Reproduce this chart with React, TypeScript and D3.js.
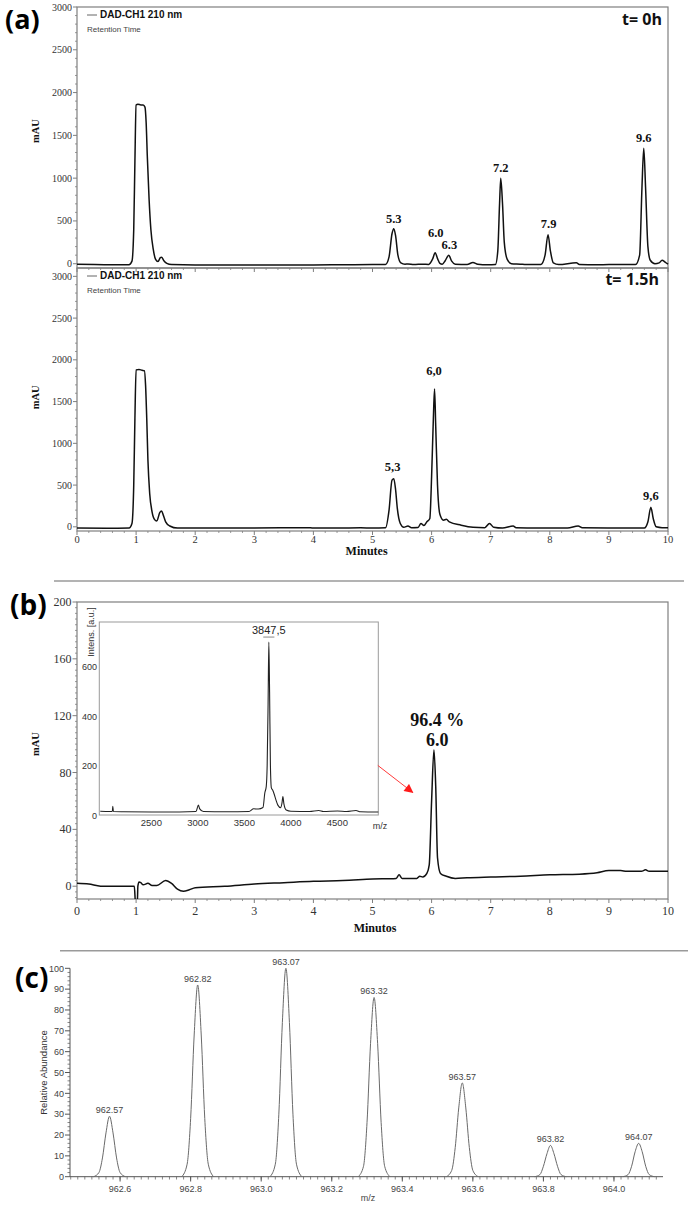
import * as d3 from "d3";

type Pt = [number, number];

// (a) HPLC, t = 0h   [minutes, mAU]
const TRACE_T0: Pt[] = [
  [0, -5], [0.3, -10], [0.6, -12], [0.88, -12], [0.93, 30], [0.96, 400], [0.98, 1200], [1.0, 1855],
  [1.03, 1865], [1.08, 1855], [1.12, 1855], [1.15, 1830], [1.17, 1650], [1.19, 1250], [1.22, 750],
  [1.25, 400], [1.29, 170], [1.33, 50], [1.37, 25], [1.41, 70], [1.43, 75], [1.47, 35], [1.52, 5],
  [1.6, -10], [2.0, -15], [3.0, -15], [4.0, -15], [4.5, -12], [5.0, -10], [5.22, -8], [5.28, 80],
  [5.33, 350], [5.36, 410], [5.39, 330], [5.43, 100], [5.48, 10], [5.55, -5], [5.6, -2], [5.7, -10],
  [5.85, -5], [5.95, -8], [6.02, 60], [6.06, 128], [6.1, 60], [6.14, 5], [6.18, -5], [6.23, 35],
  [6.29, 100], [6.34, 30], [6.4, -5], [6.6, -10], [6.7, 15], [6.78, -5], [6.95, -12], [7.08, -10],
  [7.12, 150], [7.15, 700], [7.17, 1000], [7.2, 700], [7.23, 250], [7.28, 50], [7.35, 0], [7.5, -5],
  [7.6, -10], [7.85, -8], [7.92, 100], [7.97, 340], [8.01, 150], [8.06, 10], [8.15, -10], [8.45, 10],
  [8.5, -8], [8.8, -12], [9.0, -10], [9.45, -10], [9.52, 100], [9.56, 900], [9.59, 1350], [9.62, 900],
  [9.66, 200], [9.7, 40], [9.78, 0], [9.85, 10], [9.9, 40], [9.95, 20], [10, -5],
];

// (a) HPLC, t = 1.5h
const TRACE_T15: Pt[] = [
  [0, -15], [0.5, -18], [0.88, -15], [0.93, 40], [0.96, 500], [0.98, 1300], [1.0, 1880], [1.05, 1885],
  [1.1, 1875], [1.14, 1870], [1.16, 1700], [1.18, 1300], [1.2, 800], [1.23, 400], [1.27, 180],
  [1.31, 90], [1.35, 70], [1.4, 170], [1.43, 190], [1.46, 140], [1.5, 60], [1.57, 10], [1.7, -15],
  [2.0, -15], [3.0, -15], [3.9, -10], [4.0, -15], [4.4, -15], [4.8, -12], [5.0, -15], [5.22, -12],
  [5.28, 200], [5.33, 560], [5.36, 575], [5.39, 450], [5.42, 220], [5.47, 40], [5.53, -5], [5.6, 10],
  [5.66, -10], [5.77, -8], [5.82, 40], [5.87, 15], [5.92, 60], [5.97, 100], [6.0, 600], [6.03, 1300],
  [6.05, 1650], [6.07, 1200], [6.1, 500], [6.14, 150], [6.2, 80], [6.25, 90], [6.3, 60], [6.5, 20],
  [6.7, -5], [6.9, -10], [6.98, 40], [7.05, -5], [7.2, -15], [7.38, 10], [7.43, -10], [7.8, -15],
  [8.3, -15], [8.48, 10], [8.55, -12], [9.0, -15], [9.6, -15], [9.66, 60], [9.71, 235], [9.75, 100],
  [9.8, 0], [9.9, -10], [10, -10],
];

const LABELS_T0 = ["5.3", "6.0", "6.3", "7.2", "7.9", "9.6"];
const LABELS_T0_RT = [5.36, 6.07, 6.3, 7.17, 7.98, 9.59];
const LABELS_T0_MAU = [480, 318, 175, 1077, 417, 1427];

const LABELS_T15 = ["5,3", "6,0", "9,6"];
const LABELS_T15_RT = [5.34, 6.04, 9.71];
const LABELS_T15_MAU = [672, 1818, 321];

// (b) purified peptide HPLC   [minutos, mAU]
const TRACE_PURE: Pt[] = [
  [0, 2], [0.2, 1.5], [0.4, 0], [0.9, 0], [0.97, 0], [0.99, -12], [1.02, -12], [1.03, 0], [1.05, 3],
  [1.08, 2.5], [1.12, 1], [1.2, 2], [1.27, 0.5], [1.35, 0.5], [1.5, 4], [1.6, 2], [1.7, -2], [1.8, -3.5],
  [1.9, -2.5], [2.0, -1], [2.5, 0], [3.0, 1.5], [3.5, 2.5], [4.0, 3.5], [4.5, 4], [5.0, 5], [5.4, 5.5],
  [5.45, 8], [5.5, 5.5], [5.75, 5.5], [5.8, 7], [5.85, 6.5], [5.92, 9], [5.96, 15], [6.0, 60],
  [6.04, 96], [6.07, 70], [6.1, 20], [6.15, 9], [6.25, 7], [6.4, 5.5], [6.6, 6], [7.0, 6.5], [7.5, 7],
  [8.0, 8], [8.5, 8.5], [8.8, 9.5], [9.0, 11], [9.2, 11], [9.3, 10.5], [9.55, 10.5], [9.62, 11.5],
  [9.68, 10.5], [10, 10.5],
];
const PURE_PEAK_RT = 6.06;
const PURE_PEAK_LINES = ["96.4 %", "6.0"];
const PURE_PEAK_MAU = [112.5, 98.5];
const ARROW_FROM: Pt = [5.09, 85];
const ARROW_TO: Pt = [5.68, 66];

// (b) inset MALDI   [m/z, a.u.]
const MALDI: Pt[] = [
  [1950, 15], [2050, 14], [2080, 14], [2085, 35], [2092, 14], [2200, 13], [2500, 12], [2800, 12],
  [2980, 14], [3005, 40], [3020, 25], [3060, 14], [3300, 13], [3550, 14], [3600, 25], [3650, 24],
  [3700, 30], [3720, 90], [3735, 115], [3745, 200], [3755, 450], [3763, 700], [3771, 500], [3780, 200],
  [3790, 110], [3805, 100], [3820, 85], [3840, 60], [3860, 40], [3890, 30], [3905, 50], [3914, 75],
  [3925, 45], [3950, 20], [4000, 15], [4200, 14], [4300, 18], [4350, 14], [4500, 16], [4600, 14],
  [4700, 18], [4750, 13], [4940, 12],
];
const MALDI_LABEL = "3847,5";
const MALDI_PEAK_MZ = 3763;
const MALDI_Y_TICKS = [0, 200, 400, 600];
const MALDI_X_TICKS = [2500, 3000, 3500, 4000, 4500];

// (c) isotopic cluster
const MS_MZ = [962.57, 962.82, 963.07, 963.32, 963.57, 963.82, 964.07];
const MS_LABELS = ["962.57", "962.82", "963.07", "963.32", "963.57", "963.82", "964.07"];
const MS_HEIGHTS = [29, 92, 100, 86, 45, 15, 16];
const MS_OFFSETS = [-0.045, -0.03, -0.02, -0.01, 0, 0.01, 0.02, 0.03, 0.045];
const MS_PROFILES = [
  [0, 2, 9, 21, 29, 21, 9, 2, 0],
  [0, 6, 28, 68, 92, 68, 28, 6, 0],
  [0, 6, 30, 74, 100, 74, 30, 6, 0],
  [0, 5, 26, 64, 86, 64, 26, 5, 0],
  [0, 3, 14, 33, 45, 33, 14, 3, 0],
  [0, 1, 5, 11, 15, 11, 5, 1, 0],
  [0, 1, 5, 12, 16, 12, 5, 1, 0],
];
const MS_X_TICKS = [962.6, 962.8, 963.0, 963.2, 963.4, 963.6, 963.8, 964.0];

const SERIF = "'Liberation Serif', 'Times New Roman', serif";
const SANS = "'Liberation Sans', Arial, sans-serif";
const HEAD = "'Open Sans', 'Noto Sans', sans-serif";
const FRAME = "#7f7f7f";

const xMin = d3.scaleLinear().domain([0, 10]).range([77, 668]);

function HplcPanel(props: {
  trace: Pt[]; labels: string[]; rts: number[]; at: number[];
  top: number; bottom: number; yMax: number; stamp: string; stampX: number; stampDy: number;
  xLabels: boolean;
}) {
  const { trace, labels, rts, at, top, bottom, yMax, stamp, stampX, stampDy, xLabels } = props;
  const x = xMin;
  const y = d3.scaleLinear().domain([-50, yMax]).range([bottom, top]);
  const line = d3.line<Pt>().x((d) => x(d[0])).y((d) => y(d[1])).curve(d3.curveMonotoneX);
  const majors = d3.range(0, 3001, 500);
  const minors = d3.range(0, 3001, 100).filter((v) => v % 500 !== 0);
  const xMajors = d3.range(0, 11, 1);
  const xMinors = d3.range(0, 10.01, 0.2).filter((v) => Math.abs(v - Math.round(v)) > 0.01);
  return (
    <g>
      {minors.map((v) => (
        <line key={"m" + v} x1={75} x2={77} y1={y(v)} y2={y(v)} stroke={FRAME} strokeWidth={0.8} />
      ))}
      {majors.map((v) => (
        <g key={"M" + v}>
          <line x1={73} x2={77} y1={y(v)} y2={y(v)} stroke={FRAME} />
          <text x={72} y={y(v) + 3.5} textAnchor="end" fontFamily={SERIF} fontSize={10} fill="#333">{v}</text>
        </g>
      ))}
      {xMinors.map((v) => (
        <line key={"xm" + v} x1={x(v)} x2={x(v)} y1={bottom} y2={bottom + 2} stroke={FRAME} strokeWidth={0.8} />
      ))}
      {xMajors.map((v) => (
        <g key={"xM" + v}>
          <line x1={x(v)} x2={x(v)} y1={bottom} y2={bottom + 4} stroke={FRAME} />
          {xLabels && (
            <text x={x(v)} y={bottom + 11.5} textAnchor="middle" fontFamily={SERIF} fontSize={10.5} fill="#333">{v}</text>
          )}
        </g>
      ))}
      <rect x={77} y={top} width={591} height={bottom - top} fill="none" stroke={FRAME} strokeWidth={1.2} />
      <path d={line(trace) || ""} fill="none" stroke="#111" strokeWidth={1.5} />
      {labels.map((t, i) => (
        <text key={t} x={x(rts[i])} y={y(at[i])} textAnchor="middle" fontFamily={SERIF} fontWeight="bold" fontSize={12.5} fill="#111">{t}</text>
      ))}
      <text transform={`translate(38.5,${y(1550)}) rotate(-90)`} textAnchor="middle" fontFamily={SERIF} fontWeight="bold" fontSize={10.5} fill="#111">mAU</text>
      <line x1={87} x2={97} y1={top + 8} y2={top + 8} stroke="#666" strokeWidth={1} />
      <text x={100} y={top + 11.3} fontFamily={SANS} fontWeight="bold" fontSize={10} fill="#111">DAD-CH1  210 nm</text>
      <text x={87} y={top + 24.7} fontFamily={SANS} fontSize={8} fill="#444">Retention Time</text>
      <text x={stampX} y={top + stampDy} textAnchor="end" fontFamily={HEAD} fontWeight="bold" fontSize={16} fill="#111">{stamp}</text>
    </g>
  );
}

function PurePanel() {
  const x = xMin;
  const y = d3.scaleLinear().domain([-9, 200]).range([899, 602]);
  const line = d3.line<Pt>().x((d) => x(d[0])).y((d) => y(d[1])).curve(d3.curveMonotoneX);
  const majors = d3.range(0, 201, 40);
  const minors = d3.range(-8, 201, 4).filter((v) => v % 40 !== 0);
  const xMajors = d3.range(0, 11, 1);
  const xMinors = d3.range(0, 10.01, 0.2).filter((v) => Math.abs(v - Math.round(v)) > 0.01);

  const ix = d3.scaleLinear().domain([1940, 4940]).range([99.3, 378.3]);
  const iy = d3.scaleLinear().domain([0, 781]).range([815, 622]);
  const iline = d3.line<Pt>().x((d) => ix(d[0])).y((d) => iy(d[1])).curve(d3.curveMonotoneX);

  return (
    <g>
      <defs>
        <clipPath id="pureClip">
          <rect x={77} y={602} width={591} height={297} />
        </clipPath>
        <marker id="redHead" viewBox="0 0 10 10" refX={9} refY={5} markerWidth={10} markerHeight={9}
          markerUnits="userSpaceOnUse" orient="auto">
          <path d="M0,0 L10,5 L0,10 z" fill="#ff1a1a" />
        </marker>
      </defs>
      {minors.map((v) => (
        <line key={"m" + v} x1={75} x2={77} y1={y(v)} y2={y(v)} stroke={FRAME} strokeWidth={0.8} />
      ))}
      {majors.map((v) => (
        <g key={"M" + v}>
          <line x1={72.5} x2={77} y1={y(v)} y2={y(v)} stroke={FRAME} />
          <text x={71.5} y={y(v) + 4} textAnchor="end" fontFamily={SERIF} fontSize={12} fill="#333">{v}</text>
        </g>
      ))}
      {xMinors.map((v) => (
        <line key={"xm" + v} x1={x(v)} x2={x(v)} y1={899} y2={901} stroke={FRAME} strokeWidth={0.8} />
      ))}
      {xMajors.map((v) => (
        <g key={"xM" + v}>
          <line x1={x(v)} x2={x(v)} y1={899} y2={903} stroke={FRAME} />
          <text x={x(v)} y={915} textAnchor="middle" fontFamily={SERIF} fontSize={12} fill="#333">{v}</text>
        </g>
      ))}
      <rect x={77} y={602} width={591} height={297} fill="none" stroke={FRAME} strokeWidth={1.2} />
      <path d={line(TRACE_PURE) || ""} clipPath="url(#pureClip)" fill="none" stroke="#111" strokeWidth={1.5} />
      {PURE_PEAK_LINES.map((t, i) => (
        <text key={t} x={x(PURE_PEAK_RT) + 2} y={y(PURE_PEAK_MAU[i])} textAnchor="middle" fontFamily={SERIF}
          fontWeight="bold" fontSize={18} fill="#111">{t}</text>
      ))}
      <text transform={`translate(38.5,${y(100)}) rotate(-90)`} textAnchor="middle" fontFamily={SERIF} fontWeight="bold" fontSize={10.5} fill="#111">mAU</text>
      <text x={375} y={932} textAnchor="middle" fontFamily={SERIF} fontWeight="bold" fontSize={12} fill="#111">Minutos</text>

      {/* inset */}
      <rect x={99.3} y={622} width={279} height={193} fill="#fff" stroke="#9a9a9a" strokeWidth={1} />
      <path d={iline(MALDI) || ""} fill="none" stroke="#222" strokeWidth={1.1} />
      {MALDI_Y_TICKS.map((v) => (
        <text key={v} x={97} y={iy(v) + 3.5} textAnchor="end" fontFamily={SANS} fontSize={9} fill="#333">{v}</text>
      ))}
      {MALDI_X_TICKS.map((v) => (
        <text key={v} x={ix(v)} y={826} textAnchor="middle" fontFamily={SANS} fontSize={9.5} fill="#333">{v}</text>
      ))}
      <text transform={`translate(93.5,632) rotate(-90)`} textAnchor="middle" fontFamily={SANS} fontSize={9} fill="#333">Intens. [a.u.]</text>
      <text x={380} y={829} textAnchor="middle" fontFamily={SANS} fontSize={9} fill="#333">m/z</text>
      <text x={ix(MALDI_PEAK_MZ)} y={iy(732)} textAnchor="middle" fontFamily={SANS} fontSize={11} fill="#222">{MALDI_LABEL}</text>
      <line x1={ix(MALDI_PEAK_MZ - 60)} x2={ix(MALDI_PEAK_MZ + 60)} y1={iy(720)} y2={iy(720)} stroke="#888" />

      <line x1={x(ARROW_FROM[0])} y1={y(ARROW_FROM[1])} x2={x(ARROW_TO[0])} y2={y(ARROW_TO[1])}
        stroke="#ff3b3b" strokeWidth={1} markerEnd="url(#redHead)" />
    </g>
  );
}

function IsotopePanel() {
  const x = d3.scaleLinear().domain([962.458, 964.139]).range([70, 663]);
  const y = d3.scaleLinear().domain([0, 100]).range([1176.7, 968.3]);
  const line = d3.line<Pt>().x((d) => x(d[0])).y((d) => y(d[1])).curve(d3.curveMonotoneX);
  const majors = d3.range(0, 101, 10);
  const minors = d3.range(0, 101, 2).filter((v) => v % 10 !== 0);
  const xMinors = d3.range(962.46, 964.14, 0.02);
  const AX = "#555";
  return (
    <g>
      <line x1={70} x2={70} y1={968.3} y2={1176.7} stroke={AX} />
      <line x1={70} x2={663} y1={1176.7} y2={1176.7} stroke={AX} />
      {minors.map((v) => (
        <line key={"m" + v} x1={67.5} x2={70} y1={y(v)} y2={y(v)} stroke={AX} strokeWidth={0.7} />
      ))}
      {majors.map((v) => (
        <g key={"M" + v}>
          <line x1={65} x2={70} y1={y(v)} y2={y(v)} stroke={AX} />
          <text x={64} y={y(v) + 3.2} textAnchor="end" fontFamily={SANS} fontSize={9} fill="#444">{v}</text>
        </g>
      ))}
      {xMinors.map((v, i) => (
        <line key={"xm" + i} x1={x(v)} x2={x(v)} y1={1176.7} y2={1179.5} stroke={AX} strokeWidth={0.7} />
      ))}
      {MS_X_TICKS.map((v) => (
        <g key={"xM" + v}>
          <line x1={x(v)} x2={x(v)} y1={1176.7} y2={1181.5} stroke={AX} />
          <text x={x(v)} y={1191.5} textAnchor="middle" fontFamily={SANS} fontSize={9} fill="#444">{v.toFixed(1)}</text>
        </g>
      ))}
      {MS_MZ.map((mz, i) => {
        const pts: Pt[] = MS_OFFSETS.map((o, j) => [mz + o, MS_PROFILES[i][j]]);
        return (
          <g key={mz}>
            <path d={line(pts) || ""} fill="none" stroke="#6a6a6a" strokeWidth={1} />
            <text x={x(mz)} y={y(MS_HEIGHTS[i]) - 3} textAnchor="middle" fontFamily={SANS} fontSize={9} fill="#444">{MS_LABELS[i]}</text>
          </g>
        );
      })}
      <text transform={`translate(46.5,${y(50)}) rotate(-90)`} textAnchor="middle" fontFamily={SANS} fontSize={9.5} fill="#333">Relative Abundance</text>
      <text x={368} y={1201} textAnchor="middle" fontFamily={SANS} fontSize={9} fill="#444">m/z</text>
    </g>
  );
}

export default function App() {
  return (
    <svg width={696} height={1205} viewBox="0 0 696 1205"
      style={{ position: "absolute", left: 0, top: 0, background: "#fff" }}>
      <rect width={696} height={1205} fill="#fff" />
      <HplcPanel trace={TRACE_T0} labels={LABELS_T0} rts={LABELS_T0_RT} at={LABELS_T0_MAU}
        top={7} bottom={268} yMax={3000} stamp="t= 0h" stampX={662} stampDy={18} xLabels={false} />
      <HplcPanel trace={TRACE_T15} labels={LABELS_T15} rts={LABELS_T15_RT} at={LABELS_T15_MAU}
        top={268} bottom={531} yMax={3100} stamp="t= 1.5h" stampX={659} stampDy={17} xLabels={true} />
      <text x={xMin(4.9)} y={555} textAnchor="middle" fontFamily={SERIF} fontWeight="bold" fontSize={12} fill="#111">Minutes</text>

      <line x1={54} x2={684} y1={581} y2={581} stroke="#9a9a9a" strokeWidth={1.5} />
      <PurePanel />
      <line x1={60} x2={688} y1={950.7} y2={950.7} stroke="#9a9a9a" strokeWidth={1.5} />
      <IsotopePanel />

      <text x={5} y={29} fontFamily={HEAD} fontWeight="bold" fontSize={27} fill="#000">(a)</text>
      <text x={10} y={615} fontFamily={HEAD} fontWeight="bold" fontSize={28} fill="#000">(b)</text>
      <text x={15} y={988} fontFamily={HEAD} fontWeight="bold" fontSize={28} fill="#000">(c)</text>
    </svg>
  );
}
